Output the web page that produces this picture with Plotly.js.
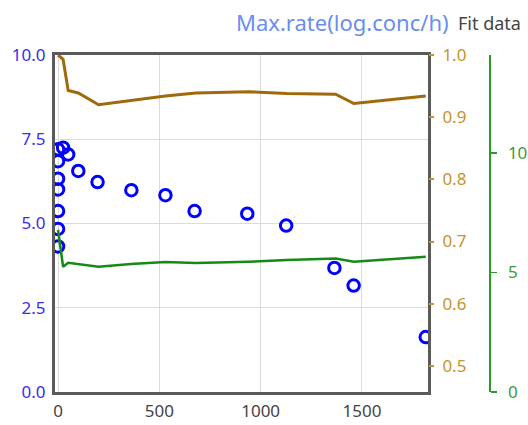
<!DOCTYPE html>
<html>
<head>
<meta charset="utf-8">
<script src="https://cdn.plot.ly/plotly-3.0.1.min.js"></script>
<style>html,body{margin:0;padding:0;background:#fff;}#chart{width:528px;height:425px;}</style>
</head>
<body>
<div id="chart"></div>
<script>
// Measured data (blue circles, left axis)
var rateTime = [0, 25, 50, 0, 100, 195, 0, 0, 0, 0, 0, 362, 530, 674, 934, 1126, 1364, 1459, 1815];
var rateValue = [7.20, 7.25, 7.05, 6.85, 6.56, 6.23, 6.33, 6.01, 5.37, 4.84, 4.32, 5.99, 5.84, 5.37, 5.29, 4.94, 3.68, 3.16, 1.63];

// Fit data lines
var fitTime = [0, 25, 50, 100, 200, 360, 530, 680, 940, 1130, 1370, 1460, 1815];
var fitBrown = [1.0, 0.993, 0.943, 0.939, 0.920, 0.927, 0.934, 0.939, 0.941, 0.938, 0.937, 0.922, 0.934];
var fitGreen = [6.78, 5.24, 5.41, 5.35, 5.24, 5.36, 5.44, 5.40, 5.45, 5.52, 5.59, 5.45, 5.66];

var xTicks = [0, 500, 1000, 1500];
var titleMain = 'Max.rate(log.conc/h)';
var titleSub = 'Fit data';

var traces = [
  {x: fitTime, y: fitBrown, yaxis: 'y2', mode: 'lines', type: 'scatter',
   line: {color: '#a0690c', width: 3}, hoverinfo: 'none'},
  {x: fitTime, y: fitGreen, yaxis: 'y3', mode: 'lines', type: 'scatter',
   line: {color: '#168a16', width: 2.5}, hoverinfo: 'none'},
  {x: rateTime, y: rateValue, yaxis: 'y', mode: 'markers', type: 'scatter',
   marker: {symbol: 'circle-open', size: 11.5, color: '#0000ff', line: {width: 3, color: '#0000ff'}}}
];

var W = 443; // plot width incl. right margin area
var TF = 17;
var layout = {
  width: 528, height: 425,
  margin: {l: 55, r: 30, t: 55, b: 33},
  paper_bgcolor: '#fff', plot_bgcolor: '#fff',
  showlegend: false,
  font: {family: 'Noto Sans, sans-serif', size: TF},
  xaxis: {
    domain: [0, 373 / W],
    range: [-15, 1826],
    tickvals: xTicks,
    showgrid: true, gridcolor: '#dcdcdc', gridwidth: 1,
    zeroline: false,
    showline: true, linecolor: '#5a5a5a', linewidth: 3, mirror: true,
    ticks: '', tickfont: {color: '#444', size: TF},
    ticklabelstandoff: 2,
    fixedrange: true
  },
  yaxis: {
    range: [0, 10],
    dtick: 2.5, tickformat: '.1f',
    showgrid: true, gridcolor: '#dcdcdc', gridwidth: 1,
    zeroline: false,
    showline: true, linecolor: '#5a5a5a', linewidth: 3, mirror: true,
    ticks: '', tickfont: {color: '#3a2cf0', size: TF},
    ticklabelstandoff: 3,
    fixedrange: true
  },
  yaxis2: {
    overlaying: 'y', side: 'right', anchor: 'x',
    range: [0.458, 1.0], dtick: 0.1, tickformat: '.1f',
    showgrid: false, zeroline: false, showline: false,
    ticks: 'outside', ticklen: 5, tickwidth: 2, tickcolor: '#c8922a',
    tickfont: {color: '#c8922a', size: TF},
    ticklabelstandoff: 5,
    fixedrange: true
  },
  yaxis3: {
    overlaying: 'y', side: 'right', anchor: 'free',
    position: (489 - 55) / W,
    range: [0, 14.1], dtick: 5,
    showgrid: false, zeroline: false,
    showline: true, linecolor: '#2a9a2a', linewidth: 1.5,
    ticks: 'outside', ticklen: 6, tickwidth: 1.5, tickcolor: '#2a9a2a',
    tickfont: {color: '#3c9a3c', size: TF},
    ticklabelstandoff: 8,
    fixedrange: true
  },
  annotations: [
    {text: titleMain, xref: 'paper', yref: 'paper', x: (451 - 55) / W, y: (392 - 22) / 337,
     xanchor: 'right', yanchor: 'middle', showarrow: false,
     font: {color: '#6a8ef0', size: 22}},
    {text: titleSub, xref: 'paper', yref: 'paper', x: (456 - 55) / W, y: (392 - 23) / 337,
     xanchor: 'left', yanchor: 'middle', showarrow: false,
     font: {color: '#444', size: 18}}
  ]
};

Plotly.newPlot('chart', traces, layout, {displayModeBar: false, staticPlot: true});
</script>
</body>
</html>
